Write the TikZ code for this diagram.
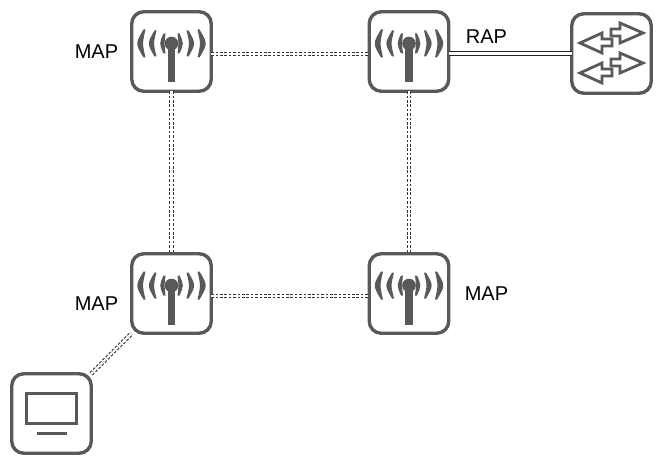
\documentclass[tikz,border=0pt]{standalone}
\usepackage{fontspec}
\setmainfont{Liberation Sans}
\usepackage{xcolor}
\usetikzlibrary{positioning,calc}
\definecolor{icongray}{HTML}{595959}
\tikzset{
    devbox/.style={draw=icongray, line width=3.4pt, rounded corners=12pt, minimum size=79.5pt, inner sep=0pt, outer sep=0pt, fill=white},
    wlink/.style={draw=black!80, line width=1pt, double=white, double distance=2.4pt, dash pattern=on 2.6pt off 1.8pt},
    wiredlink/.style={draw=black!85, line width=1pt, double=white, double distance=2.2pt},
    lbl/.style={font=\fontsize{20}{24}\selectfont, inner sep=0pt},
    antenna/.pic={
        \fill[icongray] (0,-8) circle (6.8);
        \fill[icongray] (-3.6,-8) rectangle (3.6,31);
        \foreach \sx in {-1,1} {
            \foreach \tip/\peak/\hh/\th in {8/11.3/10/4.4, 17/22.6/13/5.2, 28/34.2/14/5.8} {
                \fill[icongray, xscale=\sx] (\tip,-8-\hh)
                    .. controls ({(\peak-\tip/4)*4/3},-8) .. (\tip,-8+\hh)
                    -- ({\tip-2},-8+\hh)
                    .. controls ({(\peak-\th-(\tip-2)/4)*4/3},-8) .. ({\tip-2},-8-\hh) -- cycle;
            }
        }
    },
    arrowpair/.pic={
        \draw[icongray, line width=2.8pt, miter limit=4] (31.5,-20.5) -- (8.5,-30.5) -- (8.5,-24.5) -- (-.5,-24.5) -- (-.5,-17.5) -- (8.5,-17.5) -- (8.5,-10.5) -- cycle;
        \draw[icongray, line width=2.8pt, miter limit=4] (-31.5,-10.5) -- (-9.5,-20.5) -- (-9.5,-14.5) -- (.5,-14.5) -- (.5,-7.5) -- (-9.5,-7.5) -- (-9.5,-.5) -- cycle;
    },
    screenicon/.pic={
        \draw[icongray, line width=3pt] (-25,-20) rectangle (25,10);
        \draw[icongray, line width=3pt] (-15,20) -- (15,20);
    },
}
\begin{document}
\begin{tikzpicture}[x=1pt,y=-1pt]
    \useasboundingbox (0,0) rectangle (663,465);

    \node[devbox] (maptl) at (171.5,51.5) {};
    \node[devbox] (rap) at (409,51.5) {};
    \node[devbox] (mapbl) at (171.5,293.5) {};
    \node[devbox] (mapbr) at (409,293.5) {};
    \node[devbox] (sw) at (611.5,53.5) {};
    \node[devbox] (pc) at (51.5,413.5) {};

    \foreach \n in {maptl,rap,mapbl,mapbr} {
        \pic at (\n) {antenna};
    }
    \pic at (sw) {arrowpair};
    \pic at ($(sw)+(0,30)$) {arrowpair};
    \pic at (pc) {screenicon};

    \draw[wlink] ([yshift=-2.3pt]maptl.east) -- ([yshift=-2.3pt]rap.west);
    \draw[wlink] ([yshift=-2.3pt]mapbl.east) -- ([yshift=-2.3pt]mapbr.west);
    \draw[wlink] (maptl.south) -- (mapbl.north);
    \draw[wlink] (rap.south) -- (mapbr.north);
    \draw[wlink] (pc.north east) -- (mapbl.south west);
    \draw[wiredlink] ([yshift=-2pt]rap.east) -- (sw.west);

    \node[lbl] (lmaptl) at (96.5,51.5) {MAP};
    \node[lbl] (lrap) at (486.5,36.5) {RAP};
    \node[lbl] (lmapbl) at (96.5,303.5) {MAP};
    \node[lbl] (lmapbr) at (486.5,293.5) {MAP};
\end{tikzpicture}
\end{document}
